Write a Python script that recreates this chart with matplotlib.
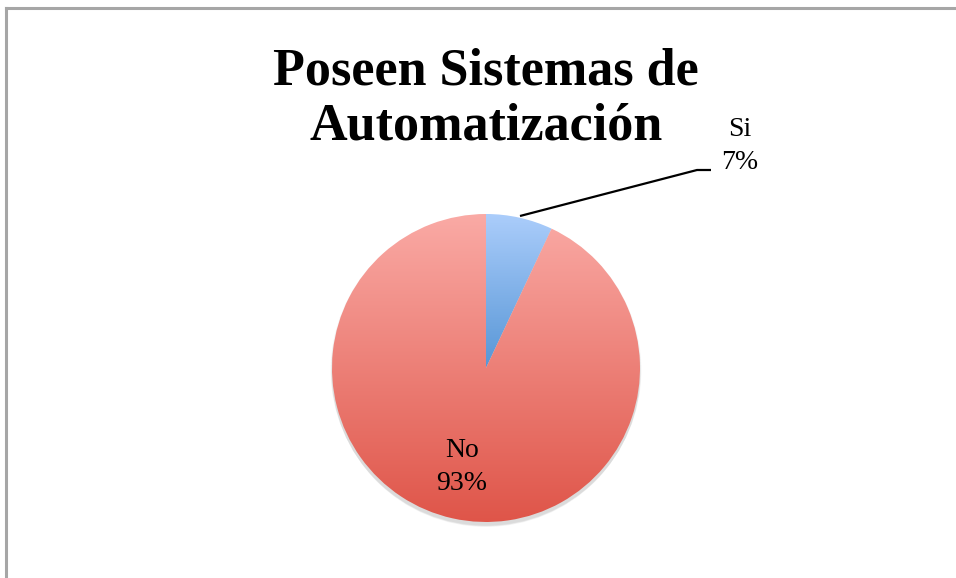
import numpy as np
import matplotlib
matplotlib.use("Agg")
import matplotlib.pyplot as plt
from matplotlib.colors import LinearSegmentedColormap

labels = ["Si", "No"]
values = [7, 93]
top_colors = ["#abcdfb", "#faaaa5"]
bottom_colors = ["#5796d6", "#df5549"]

W, H = 956, 578
fig = plt.figure(figsize=(W / 100, H / 100), dpi=100)
ax = fig.add_axes([0, 0, 1, 1])

cx, cy, r = 486, H - 368, 154

# soft shadow under the pie
for k in range(6):
    sh = plt.Circle((cx, cy - 2 - k * 0.6), r + 1.5 - k * 0.3, color="black",
                    alpha=0.025, lw=0, zorder=1)
    ax.add_patch(sh)

wedges, _ = ax.pie(values, center=(cx, cy), radius=r, startangle=90,
                   counterclock=False, frame=True,
                   wedgeprops=dict(linewidth=0, alpha=0))

for w, c1, c2 in zip(wedges, top_colors, bottom_colors):
    x0, y0, x1, y1 = w.get_path().get_extents(w.get_patch_transform()).extents
    cmap = LinearSegmentedColormap.from_list("g", [c2, c1])
    grad = np.linspace(0, 1, 256).reshape(-1, 1)
    im = ax.imshow(grad, cmap=cmap, extent=(x0, x1, y0, y1), origin="lower",
                   aspect="auto", zorder=2, interpolation="bilinear")
    w.set_alpha(None)
    w.set_facecolor("none")
    im.set_clip_path(w)

ax.set_xlim(0, W)
ax.set_ylim(0, H)
ax.set_aspect("auto")
ax.axis("off")

serif = "Liberation Serif"

# title
fig.text(486 / W, 1 - 99 / H, "Poseen Sistemas de\nAutomatización",
         ha="center", va="center", fontsize=37.5, fontweight="bold",
         family=serif, linespacing=1.2)

pcts = [f"{labels[i]}\n{values[i]}%" for i in range(len(values))]
ax.text(740, H - 146, pcts[0], ha="center", va="center", fontsize=20,
        family=serif, linespacing=1.45, zorder=5)
ax.text(462, H - 467, pcts[1], ha="center", va="center", fontsize=20,
        family=serif, linespacing=1.45, zorder=5)

# leader line for "Si"
ax.plot([520, 697, 711], [H - 216, H - 170, H - 170], color="black", lw=1.6,
        zorder=5, solid_capstyle="butt")

# chart border (top and left)
ax.plot([6, W], [H - 8, H - 8], color="#a6a6a6", lw=2.2, zorder=6)
ax.plot([6, 6], [0, H - 8], color="#a6a6a6", lw=2.2, zorder=6)

fig.savefig("out.png", dpi=100)
